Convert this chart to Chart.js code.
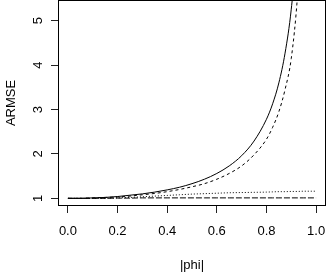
<!DOCTYPE html>
<html>
<head>
<meta charset="utf-8">
<script src="https://cdn.jsdelivr.net/npm/chart.js@4"></script>
<style>
  html, body { margin: 0; padding: 0; background: #fff; }
  canvas { display: block; }
</style>
</head>
<body>
<canvas id="chart" width="327" height="273"></canvas>
<script>
// Data
const phi = [0, 0.05, 0.1, 0.15, 0.2, 0.25, 0.3, 0.35, 0.4, 0.45, 0.5, 0.55, 0.6, 0.65, 0.7, 0.75, 0.8, 0.825, 0.85, 0.875, 0.9, 0.925, 0.95, 0.975, 1.0];
const armseSolid = [1.00, 1.00, 1.01, 1.02, 1.04, 1.07, 1.10, 1.14, 1.19, 1.25, 1.33, 1.43, 1.56, 1.73, 1.96, 2.29, 2.78, 3.13, 3.60, 4.27, 5.26, 6.90, 10.0, null, null];
const armseDashed = [1.00, 1.00, 1.01, 1.02, 1.03, 1.05, 1.08, 1.11, 1.15, 1.20, 1.26, 1.33, 1.43, 1.56, 1.73, 1.98, 2.33, 2.60, 2.95, 3.45, 4.15, 5.55, 8.00, null, null];
const armseDotted = [1.00, 1.00, 1.00, 1.005, 1.01, 1.02, 1.035, 1.05, 1.065, 1.08, 1.095, 1.105, 1.115, 1.125, 1.13, 1.135, 1.14, 1.145, 1.15, 1.15, 1.155, 1.155, 1.16, 1.16, 1.16];
const armseLongdash = [1.00, 1.00, 1.00, 1.00, 1.005, 1.005, 1.01, 1.01, 1.01, 1.01, 1.01, 1.01, 1.01, 1.01, 1.01, 1.01, 1.01, 1.01, 1.01, 1.01, 1.01, 1.01, 1.01, 1.01, 1.01];
const xTicks = [0, 0.2, 0.4, 0.6, 0.8, 1.0];
const yTicks = [1, 2, 3, 4, 5];

const FONT = 'Liberation Sans, Arial, Helvetica, sans-serif';

function points(ys) {
  return phi.map((x, i) => ({ x: x, y: ys[i] }));
}

function series(ys, dash) {
  return {
    data: points(ys),
    borderColor: '#000',
    borderWidth: 1,
    borderDash: dash,
    pointRadius: 0,
    cubicInterpolationMode: 'monotone',
    spanGaps: false,
    fill: false
  };
}

// R style box around the plot region
const boxPlugin = {
  id: 'box',
  afterDraw(chart) {
    const a = chart.chartArea;
    const ctx = chart.ctx;
    ctx.save();
    ctx.strokeStyle = '#000';
    ctx.lineWidth = 1;
    ctx.strokeRect(a.left + 0.5, a.top + 0.5, a.right - a.left - 1, a.bottom - a.top - 1);
    ctx.restore();
  }
};

new Chart(document.getElementById('chart'), {
  type: 'line',
  data: {
    datasets: [
      series(armseSolid, []),
      series(armseDashed, [3, 3]),
      series(armseDotted, [1, 2]),
      series(armseLongdash, [6, 2])
    ]
  },
  options: {
    responsive: false,
    animation: false,
    devicePixelRatio: 1,
    layout: { padding: { top: 0, right: 1, left: 0, bottom: 0 } },
    plugins: { legend: { display: false }, tooltip: { enabled: false } },
    scales: {
      x: {
        type: 'linear',
        min: -0.04,
        max: 1.04,
        afterBuildTicks: s => { s.ticks = xTicks.map(v => ({ value: v })); },
        afterFit: s => { s.height = 67; s.paddingLeft = 0; s.paddingRight = 0; },
        grid: { drawOnChartArea: false, drawTicks: true, tickLength: 7, color: '#222' },
        border: { display: false },
        ticks: {
          padding: 11,
          color: '#000',
          font: { family: FONT, size: 13 },
          maxRotation: 0,
          callback: v => v.toFixed(1)
        },
        title: {
          display: true,
          text: '|phi|',
          color: '#000',
          font: { family: FONT, size: 13 },
          padding: { top: 0, bottom: 0 }
        }
      },
      y: {
        type: 'linear',
        min: 0.827,
        max: 5.467,
        afterBuildTicks: s => { s.ticks = yTicks.map(v => ({ value: v })); },
        afterFit: s => { s.width = 58; s.paddingTop = 0; s.paddingBottom = 0; },
        grid: { drawOnChartArea: false, drawTicks: true, tickLength: 7, color: '#222' },
        border: { display: false },
        ticks: {
          padding: 9,
          color: '#000',
          font: { family: FONT, size: 13 },
          minRotation: 90,
          maxRotation: 90,
          crossAlign: 'center',
          callback: v => String(v)
        },
        title: {
          display: true,
          text: 'ARMSE',
          color: '#000',
          font: { family: FONT, size: 13 },
          padding: { top: 4, bottom: 0 }
        }
      }
    }
  },
  plugins: [boxPlugin]
});
</script>
</body>
</html>
